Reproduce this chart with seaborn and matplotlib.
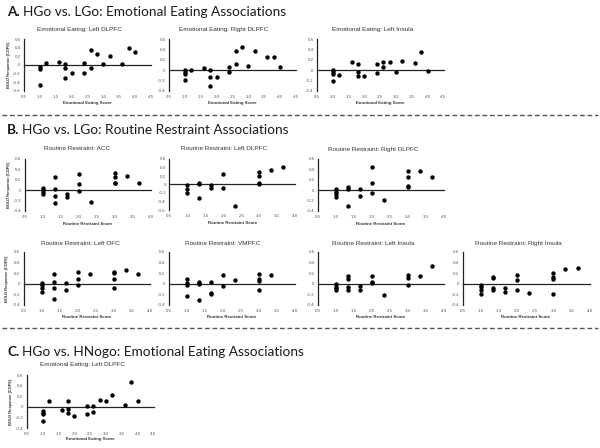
import numpy as np
import pandas as pd
import matplotlib
matplotlib.use("Agg")
import matplotlib.pyplot as plt
from matplotlib.ticker import FuncFormatter
from matplotlib.lines import Line2D
import seaborn as sns

# ---------------- data ----------------
# A. HGo vs. LGo: Emotional Eating
ee_ldlpfc_x = [1.0, 1.0, 1.0, 1.2, 1.6, 1.8, 1.8, 1.8, 2.0, 2.4, 2.4, 2.6, 2.6, 2.8, 3.0, 3.2, 3.6, 3.8, 4.0]
ee_ldlpfc_y = [-0.04, -0.09, -0.47, 0.04, 0.08, 0.02, -0.06, -0.30, -0.18, 0.04, -0.18, 0.35, -0.08, 0.26, 0.02, 0.21, 0.02, 0.39, 0.31]

ee_rdlpfc_x = [1.0, 1.0, 1.0, 1.0, 1.2, 1.6, 1.8, 1.8, 1.8, 2.0, 2.4, 2.4, 2.6, 2.6, 2.8, 3.0, 3.2, 3.6, 3.8, 4.0]
ee_rdlpfc_y = [0.01, -0.04, -0.07, -0.19, 0.01, 0.05, 0.01, -0.13, -0.31, -0.13, 0.06, -0.03, 0.12, 0.37, 0.45, 0.08, 0.37, 0.25, 0.26, 0.06]

ee_linsula_x = [1.0, 1.0, 1.0, 1.0, 1.2, 1.6, 1.8, 1.8, 1.8, 2.0, 2.4, 2.4, 2.6, 2.6, 2.8, 3.0, 3.2, 3.6, 3.8, 4.0]
ee_linsula_y = [0.01, -0.03, -0.08, -0.22, -0.09, 0.16, 0.11, -0.04, -0.11, -0.12, 0.12, -0.05, 0.16, 0.06, 0.16, -0.04, 0.17, 0.13, 0.35, -0.01]

# B. HGo vs. LGo: Routine Restraint
rr_acc_x = [1.0, 1.0, 1.0, 1.0, 1.33, 1.33, 1.33, 1.33, 1.67, 1.67, 2.0, 2.0, 2.0, 2.33, 3.0, 3.0, 3.0, 3.0, 3.33, 3.67]
rr_acc_y = [0.03, 0.0, -0.04, -0.08, 0.25, 0.02, -0.11, -0.25, -0.08, -0.14, 0.31, 0.12, -0.01, -0.23, 0.33, 0.26, 0.14, 0.14, 0.28, 0.14]

rr_ldlpfc_x = [1.0, 1.0, 1.0, 1.33, 1.33, 1.33, 1.67, 1.67, 2.0, 2.0, 2.33, 3.0, 3.0, 3.0, 3.0, 3.33, 3.67]
rr_ldlpfc_y = [-0.02, -0.10, -0.19, 0.04, 0.02, -0.32, -0.02, -0.08, 0.25, -0.08, -0.50, 0.29, 0.20, 0.04, 0.02, 0.33, 0.40]

rr_rdlpfc_x = [1.0, 1.0, 1.0, 1.0, 1.33, 1.33, 1.33, 1.67, 1.67, 2.0, 2.0, 2.0, 2.33, 3.0, 3.0, 3.0, 3.0, 3.33, 3.67]
rr_rdlpfc_y = [0.02, -0.03, -0.08, -0.13, 0.06, 0.02, -0.31, 0.02, -0.12, 0.44, 0.13, -0.06, -0.19, 0.37, 0.25, 0.08, 0.05, 0.37, 0.26]

rr_lofc_x = [1.0, 1.0, 1.0, 1.0, 1.33, 1.33, 1.33, 1.33, 1.67, 1.67, 2.0, 2.0, 2.0, 2.33, 3.0, 3.0, 3.0, 3.0, 3.33, 3.67]
rr_lofc_y = [0.02, -0.03, -0.08, -0.16, 0.18, 0.04, -0.08, -0.28, 0.02, -0.12, 0.22, 0.09, -0.03, 0.18, 0.22, 0.20, 0.09, -0.08, 0.26, 0.19]

rr_vmpfc_x = [1.0, 1.0, 1.0, 1.0, 1.33, 1.33, 1.33, 1.33, 1.67, 1.67, 1.67, 2.0, 2.0, 2.33, 3.0, 3.0, 3.0, 3.0, 3.33]
rr_vmpfc_y = [0.08, 0.02, -0.03, -0.23, 0.03, 0.01, -0.01, -0.30, 0.04, -0.18, -0.20, 0.17, -0.04, 0.06, 0.19, 0.08, 0.05, -0.11, 0.16]

rr_linsula_x = [1.0, 1.0, 1.0, 1.0, 1.33, 1.33, 1.33, 1.33, 1.67, 1.67, 2.0, 2.0, 2.0, 2.33, 3.0, 3.0, 3.0, 3.33, 3.67]
rr_linsula_y = [-0.01, -0.06, -0.09, -0.12, 0.14, 0.09, -0.06, -0.11, -0.05, -0.11, 0.14, 0.04, 0.02, -0.22, 0.16, 0.11, -0.02, 0.14, 0.33]

rr_rinsula_x = [1.0, 1.0, 1.0, 1.0, 1.33, 1.33, 1.33, 1.33, 1.67, 1.67, 2.0, 2.0, 2.0, 2.33, 3.0, 3.0, 3.0, 3.0, 3.33, 3.67]
rr_rinsula_y = [-0.02, -0.06, -0.11, -0.19, 0.12, 0.11, -0.08, -0.12, -0.09, -0.16, 0.16, 0.06, -0.12, -0.17, 0.20, 0.12, 0.08, -0.19, 0.28, 0.30]

# C. HGo vs. HNogo: Emotional Eating
hn_ldlpfc_x = [1.0, 1.0, 1.0, 1.0, 1.2, 1.6, 1.8, 1.8, 1.8, 2.0, 2.4, 2.4, 2.6, 2.6, 2.8, 3.0, 3.2, 3.6, 3.8, 4.0]
hn_ldlpfc_y = [-0.08, -0.11, -0.14, -0.27, 0.11, -0.05, 0.11, -0.04, -0.11, -0.16, 0.01, -0.14, 0.01, -0.10, 0.13, 0.11, 0.23, 0.03, 0.47, 0.11]

section_letters = ["A.", "B.", "C."]
section_texts = ["HGo vs. LGo: Emotional Eating Associations",
                 "HGo vs. LGo: Routine Restraint Associations",
                 "HGo vs. HNogo: Emotional Eating Associations"]
ee_label = "Emotional Eating Score"
rr_label = "Routine Restraint Score"
ylab_text = "BOLD Response (COPE)"

# ---------------- figure ----------------
sns.set_style("white")
plt.rcParams["font.family"] = ["Liberation Sans", "DejaVu Sans"]

W, H = 600, 448
fig = plt.figure(figsize=(6, 4.48), dpi=100)
fig.patch.set_facecolor("white")

AX_COL = "#222222"


def fy(y):
    return 1 - y / H


def yfmt(v, pos):
    if abs(v) < 1e-9:
        return "0"
    return f"{v:.1f}"


def panel(box, xs, ys, xmax, ymin, title, tcx, ty, xlabel, label_dy, ylab=None):
    x0, y0, x1, y1 = box
    ax = fig.add_axes([x0 / W, 1 - y1 / H, (x1 - x0) / W, (y1 - y0) / H])
    df = pd.DataFrame({"score": xs, "bold": ys})
    sns.scatterplot(data=df, x="score", y="bold", ax=ax, color="black", s=10,
                    linewidth=0, legend=False, marker="o", zorder=5, clip_on=False)
    ax.set_xlim(0.5, xmax)
    ax.set_ylim(ymin, 0.6)
    ax.set_xlabel("")
    ax.set_ylabel("")
    ax.set_facecolor("none")
    ax.spines[["top", "right"]].set_visible(False)
    ax.spines["bottom"].set_position(("data", 0))
    for s in ("left", "bottom"):
        ax.spines[s].set_color(AX_COL)
        ax.spines[s].set_linewidth(0.9)
    xt = np.round(np.arange(0.5, xmax + 0.01, 0.5), 1)
    yt = np.round(np.arange(ymin, 0.61, 0.2), 1)
    ax.set_xticks(xt)
    ax.set_yticks(yt)
    ax.yaxis.set_major_formatter(FuncFormatter(yfmt))
    ax.tick_params(axis="x", direction="inout", length=2.6, width=0.7, color=AX_COL,
                   labelbottom=False)
    ax.tick_params(axis="y", direction="inout", length=2.6, width=0.7, color=AX_COL,
                   labelsize=3.2, pad=1.2, labelcolor="#555555")
    sec = ax.secondary_xaxis("bottom")
    sec.set_xticks(xt)
    sec.xaxis.set_major_formatter(FuncFormatter(lambda v, p: f"{v:.1f}"))
    sec.tick_params(length=0, pad=3.0, labelsize=3.2, labelcolor="#555555")
    sec.spines["bottom"].set_visible(False)
    # titles
    fig.text(tcx / W, fy(ty), title, ha="center", va="center", fontsize=4.6, color="#333333")
    fig.text((x0 + x1) / 2 / W, fy(y1 + label_dy), xlabel, ha="center", va="center",
             fontsize=3.2, fontweight="bold", color="#333333")
    if ylab is not None:
        fig.text(ylab / W, fy((y0 + y1) / 2), ylab_text, ha="center", va="center", rotation=90,
                 fontsize=2.9, fontweight="bold", color="#333333")
    return ax


# Row A
panel((24, 39.3, 151, 90.7), ee_ldlpfc_x, ee_ldlpfc_y, 4.5, -0.6,
      "Emotional Eating: Left DLPFC", 79, 29.5, ee_label, 12.5, ylab=9.3)
panel((169, 39.3, 296, 90.7), ee_rdlpfc_x, ee_rdlpfc_y, 4.5, -0.4,
      "Emotional Eating: Right DLPFC", 224, 29.5, ee_label, 12.5)
panel((317, 39.3, 443.5, 90.7), ee_linsula_x, ee_linsula_y, 4.5, -0.4,
      "Emotional Eating: Left Insula", 373, 29.5, ee_label, 12.5)

# Row B1
panel((24.7, 159, 150.7, 210.7), rr_acc_x, rr_acc_y, 4.0, -0.4,
      "Routine Restraint: ACC", 77, 149, rr_label, 13.3, ylab=9.3)
panel((169.3, 159, 295.3, 210.0), rr_ldlpfc_x, rr_ldlpfc_y, 4.0, -0.6,
      "Routine Restraint: Left DLPFC", 224, 149, rr_label, 13.3)
panel((318, 159, 444, 210.7), rr_rdlpfc_x, rr_rdlpfc_y, 4.0, -0.4,
      "Routine Restraint: Right DLPFC", 373, 149, rr_label, 13.3)

# Row B2
panel((23.7, 251.7, 149.7, 305), rr_lofc_x, rr_lofc_y, 4.0, -0.4,
      "Routine Restraint: Left OFC", 80, 243.3, rr_label, 12.3, ylab=7.5)
panel((168.7, 251.7, 294.7, 305), rr_vmpfc_x, rr_vmpfc_y, 4.0, -0.4,
      "Routine Restraint: VMPFC", 223, 243.3, rr_label, 12.3)
panel((318, 251.7, 444, 305), rr_linsula_x, rr_linsula_y, 4.0, -0.4,
      "Routine Restraint: Left Insula", 373, 243.3, rr_label, 12.3)
panel((462.5, 251.7, 589.7, 305), rr_rinsula_x, rr_rinsula_y, 4.0, -0.4,
      "Routine Restraint: Right Insula", 518, 243.3, rr_label, 12.3)

# Row C
panel((26.8, 375, 153.5, 428.3), hn_ldlpfc_x, hn_ldlpfc_y, 4.5, -0.4,
      "Emotional Eating: Left DLPFC", 82, 364.3, ee_label, 11.0, ylab=11.5)

# Section titles
fig.canvas.draw()
renderer = fig.canvas.get_renderer()
for letter, text, yy in zip(section_letters, section_texts, [12.5, 130.5, 352.5]):
    t1 = fig.text(7 / W, fy(yy), letter, ha="left", va="center", fontsize=9.8,
                  fontweight="bold", family=["Lato", "DejaVu Sans"], color="#1a1a1a")
    bb = t1.get_window_extent(renderer=renderer)
    fig.text((bb.x1 + 3.0) / W, fy(yy), text, ha="left", va="center", fontsize=9.8,
             family=["Lato", "DejaVu Sans"], color="#1a1a1a")

# Dashed separators
for yy in [115, 328]:
    fig.add_artist(Line2D([2 / W, 598 / W], [fy(yy), fy(yy)], transform=fig.transFigure,
                          color="#555555", lw=1.0, dashes=(3.4, 2.0)))

fig.savefig("out.png", dpi=100, facecolor="white")
